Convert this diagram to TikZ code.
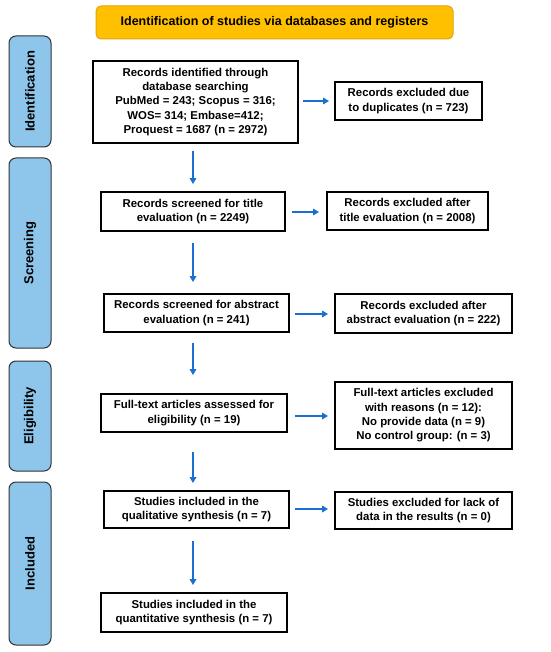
\documentclass[tikz,border=0pt]{standalone}
\usepackage{fontspec}
\setmainfont{Liberation Sans}
\usetikzlibrary{arrows.meta}
\definecolor{lblblue}{HTML}{8EC5EA}
\definecolor{lblborder}{HTML}{333333}
\definecolor{titlefill}{HTML}{FFC000}
\definecolor{titleborder}{HTML}{E3A20F}
\definecolor{arrblue}{HTML}{1B6FD1}
\tikzset{
  box/.style={draw=black, line width=1.8pt, fill=white, align=center, inner sep=0pt,
    font=\fontsize{11.4}{14.3}\selectfont\bfseries},
  lbl/.style={draw=lblborder, line width=1pt, fill=lblblue, rounded corners=7pt, rotate=90,
    inner sep=0pt, font=\fontsize{13}{15}\selectfont\bfseries},
  arr/.style={draw=arrblue, line width=1.6pt, -{Triangle[length=6pt,width=6.5pt]}},
}
\begin{document}
\begin{tikzpicture}[x=1pt,y=-1pt]
\useasboundingbox (0,0) rectangle (550,652);
% title
\node[draw=titleborder, line width=1pt, fill=titlefill, rounded corners=5pt,
  minimum width=357pt, minimum height=33pt, inner sep=0pt,
  font=\fontsize{12.5}{14}\selectfont\bfseries] (title) at (274.5,22.5)
  {Identification of studies via databases and registers};
% side labels
\node[lbl, minimum width=111pt, minimum height=42pt] (lid) at (30,91.5) {Identification};
\node[lbl, minimum width=190pt, minimum height=42pt] (lsc) at (30,253) {Screening};
\node[lbl, minimum width=110pt, minimum height=42pt] (lel) at (30,416) {Eligibility};
\node[lbl, minimum width=163pt, minimum height=42pt] (lin) at (30,563.5) {Included};
% main boxes
\node[box, minimum width=205pt, minimum height=82pt] (b1) at (195.5,102)
  {Records identified through\\database searching\\PubMed = 243; Scopus = 316;\\WOS= 314; Embase=412;\\Proquest = 1687 (n = 2972)};
\node[box, minimum width=184pt, minimum height=39pt] (b2) at (193,211.5)
  {Records screened for title\\evaluation (n = 2249)};
\node[box, minimum width=185pt, minimum height=38pt] (b3) at (196.5,313)
  {Records screened for abstract\\evaluation (n = 241)};
\node[box, minimum width=186pt, minimum height=38pt] (b4) at (194,413)
  {Full-text articles assessed for\\eligibility (n = 19)};
\node[box, minimum width=185pt, minimum height=37pt] (b5) at (196.5,509.5)
  {Studies included in the\\qualitative synthesis (n = 7)};
\node[box, minimum width=186pt, minimum height=39pt] (b6) at (194,612.5)
  {Studies included in the\\quantitative synthesis (n = 7)};
% exclusion boxes
\node[box, minimum width=147pt, minimum height=38pt] (e1) at (408.5,101)
  {Records excluded due\\to duplicates (n = 723)};
\node[box, minimum width=161pt, minimum height=38pt] (e2) at (407.5,211)
  {Records excluded after\\title evaluation (n = 2008)};
\node[box, minimum width=177pt, minimum height=39pt] (e3) at (423.5,313.5)
  {Records excluded after\\abstract evaluation (n = 222)};
\node[box, minimum width=177pt, minimum height=67pt] (e4) at (423.5,415.5)
  {Full-text articles excluded\\with reasons (n = 12):\\No provide data (n = 9)\\No control group: (n = 3)};
\node[box, minimum width=177pt, minimum height=37pt] (e5) at (423.5,510.5)
  {Studies excluded for lack of\\data in the results (n = 0)};
% arrow x position
\coordinate (ax) at (193,0);
% vertical arrows
\draw[arr, shorten <=7pt, shorten >=7pt] (b1.south -| ax) -- (b2.north -| ax);
\draw[arr, shorten <=11pt, shorten >=11pt] (b2.south -| ax) -- (b3.north -| ax);
\draw[arr, shorten <=10pt, shorten >=18pt] (b3.south -| ax) -- (b4.north -| ax);
\draw[arr, shorten <=19pt, shorten >=7pt] (b4.south -| ax) -- (b5.north -| ax);
\draw[arr, shorten <=12pt, shorten >=7pt] (b5.south -| ax) -- (b6.north -| ax);
% horizontal arrows
\coordinate (r1) at (0,101);
\coordinate (r2) at (0,212);
\coordinate (r3) at (0,314);
\coordinate (r4) at (0,416);
\coordinate (r5) at (0,509);
\draw[arr, shorten <=4pt, shorten >=5pt] (b1.east |- r1) -- (e1.west |- r1);
\draw[arr, shorten <=6pt, shorten >=7pt] (b2.east |- r2) -- (e2.west |- r2);
\draw[arr, shorten <=5pt, shorten >=6pt] (b3.east |- r3) -- (e3.west |- r3);
\draw[arr, shorten <=7pt, shorten >=6pt] (b4.east |- r4) -- (e4.west |- r4);
\draw[arr, shorten <=5pt, shorten >=6pt] (b5.east |- r5) -- (e5.west |- r5);
\end{tikzpicture}
\end{document}
